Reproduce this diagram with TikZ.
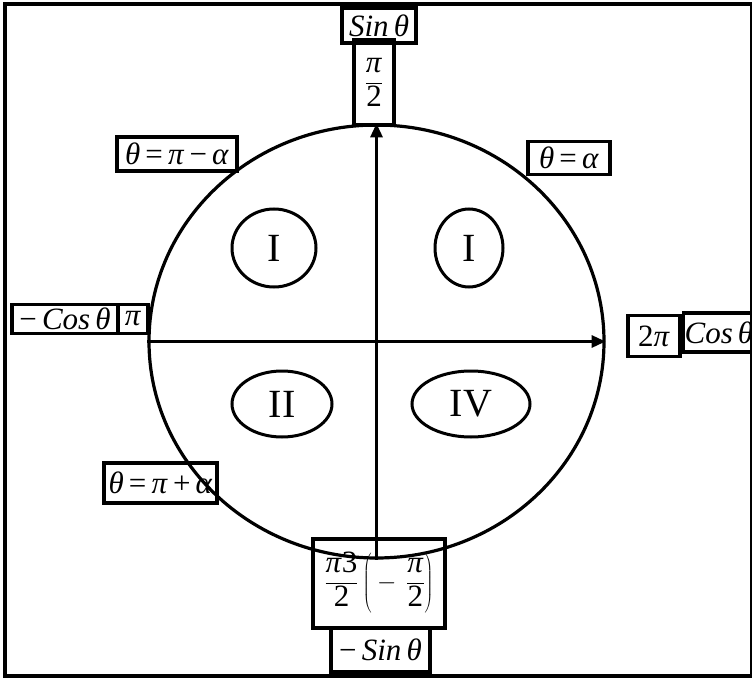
\documentclass[tikz,border=0pt]{standalone}
\usepackage{fontspec}
\setmainfont{Liberation Serif}
\usetikzlibrary{arrows.meta,shapes.geometric}
\tikzset{
  box/.style={draw, line width=3.2pt, inner sep=0pt, font=\fontsize{31}{34}\selectfont},
  quad/.style={draw, ellipse, line width=3pt, inner sep=0pt, font=\fontsize{40}{42}\selectfont},
  axis/.style={line width=3pt, -{Triangle[length=14pt,width=12pt]}},
}
\newcommand{\mi}[1]{\textit{#1}}
\begin{document}
\begin{tikzpicture}[x=1pt,y=-1pt]
\useasboundingbox (0,0) rectangle (752,679);
\draw[line width=4pt] (5,4) rectangle (752,676);
% main ellipse
\node[draw, ellipse, line width=3.2pt, minimum width=455pt, minimum height=433pt, inner sep=0pt] (circ) at (376.5,341.5) {};
% axis end labels
\node[box, minimum width=74pt, minimum height=35pt] (sin) at (379,25.5) {\mi{Sin}\,\mi{θ}};
\node[box, minimum width=40pt, minimum height=85pt] (pihalf) at (374,82.5) {$\displaystyle\frac{\mbox{\mi{π}}}{\mbox{2}}$};
\node[box, minimum width=106pt, minimum height=29pt] (mcos) at (65,319) {−\,\mi{Cos}\,\mi{θ}};
\node[box, minimum width=30pt, minimum height=29pt] (pi) at (133,319) {\mi{π}};
\node[box, minimum width=52pt, minimum height=41pt] (twopi) at (654,336) {2\mi{π}};
\node[box, minimum width=74pt, minimum height=39pt, anchor=west, text width=72pt, align=left] (cos) at (682,332.5) {\mi{Cos}\,\mi{θ}};
\node[box, minimum width=132pt, minimum height=89pt] (bot) at (379,583.5) {$\displaystyle\frac{\mbox{\mi{π}3}}{\mbox{2}}\left(\rule[-25pt]{0pt}{58pt}-\,\frac{\mbox{\mi{π}}}{\mbox{2}}\right)$};
\node[box, minimum width=99pt, minimum height=44pt] (msin) at (380.5,650) {−\,\mi{Sin}\,\mi{θ}};
% angle labels
\node[box, minimum width=120pt, minimum height=34pt] (tpma) at (177,154) {\mi{θ}\,=\,\mi{π}\,−\,\mi{α}};
\node[box, minimum width=82pt, minimum height=33pt] (ta) at (569,158) {\mi{θ}\,=\,\mi{α}};
\node[box, minimum width=113pt, minimum height=40pt] (tppa) at (160.5,483) {\mi{θ}\,=\,\mi{π}\,+\,\mi{α}};
% axes
\draw[axis] (circ.south) -- (circ.north);
\draw[axis] (circ.west) -- (circ.east);
% quadrant labels
\node[quad, minimum width=84pt, minimum height=78pt] (q1l) at (274,248) {I};
\node[quad, minimum width=68pt, minimum height=78pt] (q1r) at (469,248) {I};
\node[quad, minimum width=100pt, minimum height=66pt] (q2) at (282,404) {II};
\node[quad, minimum width=118pt, minimum height=66pt] (q4) at (471,404) {IV};
\end{tikzpicture}
\end{document}
